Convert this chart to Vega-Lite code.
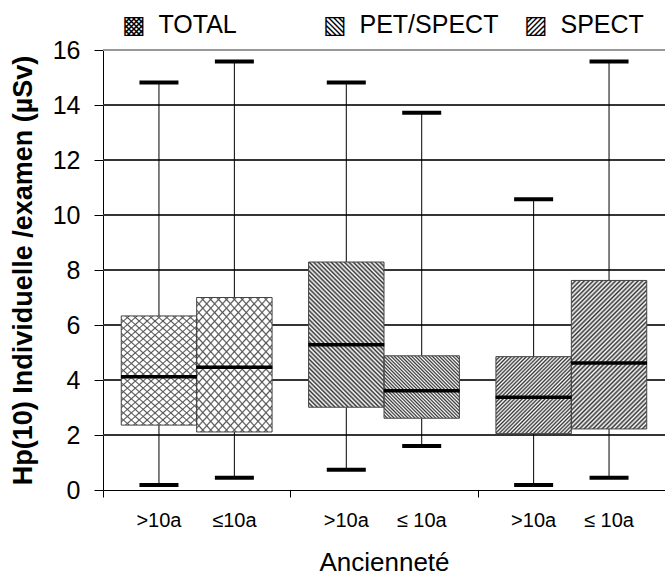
{
  "$schema": "https://vega.github.io/schema/vega-lite/v6.json",
  "autosize": {"type": "none"},
  "width": 562,
  "height": 440,
  "padding": {"left": 103, "top": 50, "right": 0, "bottom": 89},
  "config": {"view": {"stroke": null, "fill": null}, "font": "Liberation Sans"},
  "data": {"values": [
    {"group": "TOTAL", "age": ">10a", "lab": ">10a", "min": 0.18, "q1": 2.36, "median": 4.12, "q3": 6.33, "max": 14.82},
    {"group": "TOTAL", "age": "≤10a", "lab": "≤10a", "min": 0.45, "q1": 2.11, "median": 4.46, "q3": 7.0, "max": 15.58},
    {"group": "PET/SPECT", "age": ">10a", "lab": ">10a", "min": 0.74, "q1": 3.01, "median": 5.28, "q3": 8.29, "max": 14.82},
    {"group": "PET/SPECT", "age": "≤10a", "lab": "≤ 10a", "min": 1.6, "q1": 2.61, "median": 3.61, "q3": 4.88, "max": 13.72},
    {"group": "SPECT", "age": ">10a", "lab": ">10a", "min": 0.18, "q1": 2.05, "median": 3.37, "q3": 4.85, "max": 10.57},
    {"group": "SPECT", "age": "≤10a", "lab": "≤ 10a", "min": 0.45, "q1": 2.22, "median": 4.62, "q3": 7.62, "max": 15.58}
  ]},
  "layer": [
    {"layer": [
      {"mark": {"type": "rule", "color": "#333", "strokeWidth": 1}, "encoding": {"y": {"datum": 2, "type": "quantitative"}}},
      {"mark": {"type": "rule", "color": "#333", "strokeWidth": 1}, "encoding": {"y": {"datum": 4, "type": "quantitative"}}},
      {"mark": {"type": "rule", "color": "#333", "strokeWidth": 1}, "encoding": {"y": {"datum": 6, "type": "quantitative"}}},
      {"mark": {"type": "rule", "color": "#333", "strokeWidth": 1}, "encoding": {"y": {"datum": 8, "type": "quantitative"}}},
      {"mark": {"type": "rule", "color": "#333", "strokeWidth": 1}, "encoding": {"y": {"datum": 10, "type": "quantitative"}}},
      {"mark": {"type": "rule", "color": "#333", "strokeWidth": 1}, "encoding": {"y": {"datum": 12, "type": "quantitative"}}},
      {"mark": {"type": "rule", "color": "#333", "strokeWidth": 1}, "encoding": {"y": {"datum": 14, "type": "quantitative"}}},
      {"mark": {"type": "rule", "color": "#999", "strokeWidth": 1.5}, "encoding": {"y": {"datum": 16, "type": "quantitative"}}}
    ]},
    {"encoding": {
      "x": {"field": "group", "type": "nominal",
        "scale": {"domain": ["TOTAL", "PET/SPECT", "SPECT"], "paddingInner": 0, "paddingOuter": 0},
        "axis": {"title": "Ancienneté", "labels": false, "tickBand": "extent", "tickSize": 7, "tickColor": "#000", "domainColor": "#000", "grid": false,
          "titleFont": "Liberation Sans", "titleFontSize": 26, "titleFontWeight": "normal", "titleColor": "#000", "titlePadding": 52}},
      "xOffset": {"field": "age", "type": "nominal", "scale": {"domain": [">10a", "≤10a"], "paddingInner": 0, "paddingOuter": 0.242}}
     },
     "layer": [
    {"mark": {"type": "rule", "color": "#000", "strokeWidth": 1},
     "encoding": {
       "y": {"field": "min", "type": "quantitative", "scale": {"domain": [0, 16], "nice": false, "zero": true},
         "axis": {"title": "Hp(10) Individuelle /examen (µSv)", "values": [0, 2, 4, 6, 8, 10, 12, 14, 16], "grid": false,
           "domainColor": "#000", "tickColor": "#000", "tickSize": 9, "labelFontSize": 25, "labelFont": "Liberation Sans", "labelColor": "#000",
           "labelPadding": 14, "labelFlush": false, "titleFont": "Liberation Sans", "titleFontSize": 27, "titleFontWeight": "bold",
           "titleColor": "#000", "titlePadding": 15}},
       "y2": {"field": "max"}}},
    {"mark": {"type": "bar", "fill": "#fff", "strokeWidth": 0},
     "encoding": {"y": {"field": "q1", "type": "quantitative"}, "y2": {"field": "q3"}}},
    {"transform": [{"filter": "datum.group === 'TOTAL'"}],
     "mark": {"type": "bar", "strokeWidth": 0, "fill": {"gradient": "linear", "x1": 0, "y1": 0, "x2": 0.7236, "y2": 1.1708, "stops": [
       {"offset":0,"color":"#555"},{"offset":0.008,"color":"rgba(85,85,85,0)"},{"offset":0.032,"color":"rgba(85,85,85,0)"},
       {"offset":0.04,"color":"#555"},{"offset":0.048,"color":"rgba(85,85,85,0)"},{"offset":0.072,"color":"rgba(85,85,85,0)"},
       {"offset":0.08,"color":"#555"},{"offset":0.088,"color":"rgba(85,85,85,0)"},{"offset":0.112,"color":"rgba(85,85,85,0)"},
       {"offset":0.12,"color":"#555"},{"offset":0.128,"color":"rgba(85,85,85,0)"},{"offset":0.152,"color":"rgba(85,85,85,0)"},
       {"offset":0.16,"color":"#555"},{"offset":0.168,"color":"rgba(85,85,85,0)"},{"offset":0.192,"color":"rgba(85,85,85,0)"},
       {"offset":0.2,"color":"#555"},{"offset":0.208,"color":"rgba(85,85,85,0)"},{"offset":0.232,"color":"rgba(85,85,85,0)"},
       {"offset":0.24,"color":"#555"},{"offset":0.248,"color":"rgba(85,85,85,0)"},{"offset":0.272,"color":"rgba(85,85,85,0)"},
       {"offset":0.28,"color":"#555"},{"offset":0.288,"color":"rgba(85,85,85,0)"},{"offset":0.312,"color":"rgba(85,85,85,0)"},
       {"offset":0.32,"color":"#555"},{"offset":0.328,"color":"rgba(85,85,85,0)"},{"offset":0.352,"color":"rgba(85,85,85,0)"},
       {"offset":0.36,"color":"#555"},{"offset":0.368,"color":"rgba(85,85,85,0)"},{"offset":0.392,"color":"rgba(85,85,85,0)"},
       {"offset":0.4,"color":"#555"},{"offset":0.408,"color":"rgba(85,85,85,0)"},{"offset":0.432,"color":"rgba(85,85,85,0)"},
       {"offset":0.44,"color":"#555"},{"offset":0.448,"color":"rgba(85,85,85,0)"},{"offset":0.472,"color":"rgba(85,85,85,0)"},
       {"offset":0.48,"color":"#555"},{"offset":0.488,"color":"rgba(85,85,85,0)"},{"offset":0.512,"color":"rgba(85,85,85,0)"},
       {"offset":0.52,"color":"#555"},{"offset":0.528,"color":"rgba(85,85,85,0)"},{"offset":0.552,"color":"rgba(85,85,85,0)"},
       {"offset":0.56,"color":"#555"},{"offset":0.568,"color":"rgba(85,85,85,0)"},{"offset":0.592,"color":"rgba(85,85,85,0)"},
       {"offset":0.6,"color":"#555"},{"offset":0.608,"color":"rgba(85,85,85,0)"},{"offset":0.632,"color":"rgba(85,85,85,0)"},
       {"offset":0.64,"color":"#555"},{"offset":0.648,"color":"rgba(85,85,85,0)"},{"offset":0.672,"color":"rgba(85,85,85,0)"},
       {"offset":0.68,"color":"#555"},{"offset":0.688,"color":"rgba(85,85,85,0)"},{"offset":0.712,"color":"rgba(85,85,85,0)"},
       {"offset":0.72,"color":"#555"},{"offset":0.728,"color":"rgba(85,85,85,0)"},{"offset":0.752,"color":"rgba(85,85,85,0)"},
       {"offset":0.76,"color":"#555"},{"offset":0.768,"color":"rgba(85,85,85,0)"},{"offset":0.792,"color":"rgba(85,85,85,0)"},
       {"offset":0.8,"color":"#555"},{"offset":0.808,"color":"rgba(85,85,85,0)"},{"offset":0.832,"color":"rgba(85,85,85,0)"},
       {"offset":0.84,"color":"#555"},{"offset":0.848,"color":"rgba(85,85,85,0)"},{"offset":0.872,"color":"rgba(85,85,85,0)"},
       {"offset":0.88,"color":"#555"},{"offset":0.888,"color":"rgba(85,85,85,0)"},{"offset":0.912,"color":"rgba(85,85,85,0)"},
       {"offset":0.92,"color":"#555"},{"offset":0.928,"color":"rgba(85,85,85,0)"},{"offset":0.952,"color":"rgba(85,85,85,0)"},
       {"offset":0.96,"color":"#555"},{"offset":0.968,"color":"rgba(85,85,85,0)"},{"offset":0.992,"color":"rgba(85,85,85,0)"},
       {"offset":1,"color":"#555"}]}},
     "encoding": {"y": {"field": "q1", "type": "quantitative"}, "y2": {"field": "q3"}}},
    {"transform": [{"filter": "datum.group === 'TOTAL'"}],
     "mark": {"type": "bar", "strokeWidth": 0, "fill": {"gradient": "linear", "x1": 0, "y1": 1, "x2": 0.7236, "y2": -0.1708, "stops": [
       {"offset":0,"color":"#555"},{"offset":0.008,"color":"rgba(85,85,85,0)"},{"offset":0.032,"color":"rgba(85,85,85,0)"},
       {"offset":0.04,"color":"#555"},{"offset":0.048,"color":"rgba(85,85,85,0)"},{"offset":0.072,"color":"rgba(85,85,85,0)"},
       {"offset":0.08,"color":"#555"},{"offset":0.088,"color":"rgba(85,85,85,0)"},{"offset":0.112,"color":"rgba(85,85,85,0)"},
       {"offset":0.12,"color":"#555"},{"offset":0.128,"color":"rgba(85,85,85,0)"},{"offset":0.152,"color":"rgba(85,85,85,0)"},
       {"offset":0.16,"color":"#555"},{"offset":0.168,"color":"rgba(85,85,85,0)"},{"offset":0.192,"color":"rgba(85,85,85,0)"},
       {"offset":0.2,"color":"#555"},{"offset":0.208,"color":"rgba(85,85,85,0)"},{"offset":0.232,"color":"rgba(85,85,85,0)"},
       {"offset":0.24,"color":"#555"},{"offset":0.248,"color":"rgba(85,85,85,0)"},{"offset":0.272,"color":"rgba(85,85,85,0)"},
       {"offset":0.28,"color":"#555"},{"offset":0.288,"color":"rgba(85,85,85,0)"},{"offset":0.312,"color":"rgba(85,85,85,0)"},
       {"offset":0.32,"color":"#555"},{"offset":0.328,"color":"rgba(85,85,85,0)"},{"offset":0.352,"color":"rgba(85,85,85,0)"},
       {"offset":0.36,"color":"#555"},{"offset":0.368,"color":"rgba(85,85,85,0)"},{"offset":0.392,"color":"rgba(85,85,85,0)"},
       {"offset":0.4,"color":"#555"},{"offset":0.408,"color":"rgba(85,85,85,0)"},{"offset":0.432,"color":"rgba(85,85,85,0)"},
       {"offset":0.44,"color":"#555"},{"offset":0.448,"color":"rgba(85,85,85,0)"},{"offset":0.472,"color":"rgba(85,85,85,0)"},
       {"offset":0.48,"color":"#555"},{"offset":0.488,"color":"rgba(85,85,85,0)"},{"offset":0.512,"color":"rgba(85,85,85,0)"},
       {"offset":0.52,"color":"#555"},{"offset":0.528,"color":"rgba(85,85,85,0)"},{"offset":0.552,"color":"rgba(85,85,85,0)"},
       {"offset":0.56,"color":"#555"},{"offset":0.568,"color":"rgba(85,85,85,0)"},{"offset":0.592,"color":"rgba(85,85,85,0)"},
       {"offset":0.6,"color":"#555"},{"offset":0.608,"color":"rgba(85,85,85,0)"},{"offset":0.632,"color":"rgba(85,85,85,0)"},
       {"offset":0.64,"color":"#555"},{"offset":0.648,"color":"rgba(85,85,85,0)"},{"offset":0.672,"color":"rgba(85,85,85,0)"},
       {"offset":0.68,"color":"#555"},{"offset":0.688,"color":"rgba(85,85,85,0)"},{"offset":0.712,"color":"rgba(85,85,85,0)"},
       {"offset":0.72,"color":"#555"},{"offset":0.728,"color":"rgba(85,85,85,0)"},{"offset":0.752,"color":"rgba(85,85,85,0)"},
       {"offset":0.76,"color":"#555"},{"offset":0.768,"color":"rgba(85,85,85,0)"},{"offset":0.792,"color":"rgba(85,85,85,0)"},
       {"offset":0.8,"color":"#555"},{"offset":0.808,"color":"rgba(85,85,85,0)"},{"offset":0.832,"color":"rgba(85,85,85,0)"},
       {"offset":0.84,"color":"#555"},{"offset":0.848,"color":"rgba(85,85,85,0)"},{"offset":0.872,"color":"rgba(85,85,85,0)"},
       {"offset":0.88,"color":"#555"},{"offset":0.888,"color":"rgba(85,85,85,0)"},{"offset":0.912,"color":"rgba(85,85,85,0)"},
       {"offset":0.92,"color":"#555"},{"offset":0.928,"color":"rgba(85,85,85,0)"},{"offset":0.952,"color":"rgba(85,85,85,0)"},
       {"offset":0.96,"color":"#555"},{"offset":0.968,"color":"rgba(85,85,85,0)"},{"offset":0.992,"color":"rgba(85,85,85,0)"},
       {"offset":1,"color":"#555"}]}},
     "encoding": {"y": {"field": "q1", "type": "quantitative"}, "y2": {"field": "q3"}}},
    {"transform": [{"filter": "datum.group === 'PET/SPECT' && datum.age === '>10a'"}],
     "mark": {"type": "bar", "strokeWidth": 0, "fill": {"gradient": "linear", "x1": 0, "y1": 1, "x2": 0.6214, "y2": -0.1966, "stops": [
       {"offset":0,"color":"#333"},{"offset":0.01,"color":"#fff"},{"offset":0.02,"color":"#333"},{"offset":0.03,"color":"#fff"},{"offset":0.04,"color":"#333"},
       {"offset":0.05,"color":"#fff"},{"offset":0.06,"color":"#333"},{"offset":0.07,"color":"#fff"},{"offset":0.08,"color":"#333"},{"offset":0.09,"color":"#fff"},
       {"offset":0.1,"color":"#333"},{"offset":0.11,"color":"#fff"},{"offset":0.12,"color":"#333"},{"offset":0.13,"color":"#fff"},{"offset":0.14,"color":"#333"},
       {"offset":0.15,"color":"#fff"},{"offset":0.16,"color":"#333"},{"offset":0.17,"color":"#fff"},{"offset":0.18,"color":"#333"},{"offset":0.19,"color":"#fff"},
       {"offset":0.2,"color":"#333"},{"offset":0.21,"color":"#fff"},{"offset":0.22,"color":"#333"},{"offset":0.23,"color":"#fff"},{"offset":0.24,"color":"#333"},
       {"offset":0.25,"color":"#fff"},{"offset":0.26,"color":"#333"},{"offset":0.27,"color":"#fff"},{"offset":0.28,"color":"#333"},{"offset":0.29,"color":"#fff"},
       {"offset":0.3,"color":"#333"},{"offset":0.31,"color":"#fff"},{"offset":0.32,"color":"#333"},{"offset":0.33,"color":"#fff"},{"offset":0.34,"color":"#333"},
       {"offset":0.35,"color":"#fff"},{"offset":0.36,"color":"#333"},{"offset":0.37,"color":"#fff"},{"offset":0.38,"color":"#333"},{"offset":0.39,"color":"#fff"},
       {"offset":0.4,"color":"#333"},{"offset":0.41,"color":"#fff"},{"offset":0.42,"color":"#333"},{"offset":0.43,"color":"#fff"},{"offset":0.44,"color":"#333"},
       {"offset":0.45,"color":"#fff"},{"offset":0.46,"color":"#333"},{"offset":0.47,"color":"#fff"},{"offset":0.48,"color":"#333"},{"offset":0.49,"color":"#fff"},
       {"offset":0.5,"color":"#333"},{"offset":0.51,"color":"#fff"},{"offset":0.52,"color":"#333"},{"offset":0.53,"color":"#fff"},{"offset":0.54,"color":"#333"},
       {"offset":0.55,"color":"#fff"},{"offset":0.56,"color":"#333"},{"offset":0.57,"color":"#fff"},{"offset":0.58,"color":"#333"},{"offset":0.59,"color":"#fff"},
       {"offset":0.6,"color":"#333"},{"offset":0.61,"color":"#fff"},{"offset":0.62,"color":"#333"},{"offset":0.63,"color":"#fff"},{"offset":0.64,"color":"#333"},
       {"offset":0.65,"color":"#fff"},{"offset":0.66,"color":"#333"},{"offset":0.67,"color":"#fff"},{"offset":0.68,"color":"#333"},{"offset":0.69,"color":"#fff"},
       {"offset":0.7,"color":"#333"},{"offset":0.71,"color":"#fff"},{"offset":0.72,"color":"#333"},{"offset":0.73,"color":"#fff"},{"offset":0.74,"color":"#333"},
       {"offset":0.75,"color":"#fff"},{"offset":0.76,"color":"#333"},{"offset":0.77,"color":"#fff"},{"offset":0.78,"color":"#333"},{"offset":0.79,"color":"#fff"},
       {"offset":0.8,"color":"#333"},{"offset":0.81,"color":"#fff"},{"offset":0.82,"color":"#333"},{"offset":0.83,"color":"#fff"},{"offset":0.84,"color":"#333"},
       {"offset":0.85,"color":"#fff"},{"offset":0.86,"color":"#333"},{"offset":0.87,"color":"#fff"},{"offset":0.88,"color":"#333"},{"offset":0.89,"color":"#fff"},
       {"offset":0.9,"color":"#333"},{"offset":0.91,"color":"#fff"},{"offset":0.92,"color":"#333"},{"offset":0.93,"color":"#fff"},{"offset":0.94,"color":"#333"},
       {"offset":0.95,"color":"#fff"},{"offset":0.96,"color":"#333"},{"offset":0.97,"color":"#fff"},{"offset":0.98,"color":"#333"},{"offset":0.99,"color":"#fff"},
       {"offset":1,"color":"#333"}]}},
     "encoding": {"y": {"field": "q1", "type": "quantitative"}, "y2": {"field": "q3"}}},
    {"transform": [{"filter": "datum.group === 'PET/SPECT' && datum.age === '≤10a'"}],
     "mark": {"type": "bar", "strokeWidth": 0, "fill": {"gradient": "linear", "x1": 0, "y1": 1, "x2": 1.0847, "y2": 0.1023, "stops": [
       {"offset":0,"color":"#333"},{"offset":0.0125,"color":"#fff"},{"offset":0.025,"color":"#333"},{"offset":0.0375,"color":"#fff"},
       {"offset":0.05,"color":"#333"},{"offset":0.0625,"color":"#fff"},{"offset":0.075,"color":"#333"},{"offset":0.0875,"color":"#fff"},
       {"offset":0.1,"color":"#333"},{"offset":0.1125,"color":"#fff"},{"offset":0.125,"color":"#333"},{"offset":0.1375,"color":"#fff"},
       {"offset":0.15,"color":"#333"},{"offset":0.1625,"color":"#fff"},{"offset":0.175,"color":"#333"},{"offset":0.1875,"color":"#fff"},
       {"offset":0.2,"color":"#333"},{"offset":0.2125,"color":"#fff"},{"offset":0.225,"color":"#333"},{"offset":0.2375,"color":"#fff"},
       {"offset":0.25,"color":"#333"},{"offset":0.2625,"color":"#fff"},{"offset":0.275,"color":"#333"},{"offset":0.2875,"color":"#fff"},
       {"offset":0.3,"color":"#333"},{"offset":0.3125,"color":"#fff"},{"offset":0.325,"color":"#333"},{"offset":0.3375,"color":"#fff"},
       {"offset":0.35,"color":"#333"},{"offset":0.3625,"color":"#fff"},{"offset":0.375,"color":"#333"},{"offset":0.3875,"color":"#fff"},
       {"offset":0.4,"color":"#333"},{"offset":0.4125,"color":"#fff"},{"offset":0.425,"color":"#333"},{"offset":0.4375,"color":"#fff"},
       {"offset":0.45,"color":"#333"},{"offset":0.4625,"color":"#fff"},{"offset":0.475,"color":"#333"},{"offset":0.4875,"color":"#fff"},
       {"offset":0.5,"color":"#333"},{"offset":0.5125,"color":"#fff"},{"offset":0.525,"color":"#333"},{"offset":0.5375,"color":"#fff"},
       {"offset":0.55,"color":"#333"},{"offset":0.5625,"color":"#fff"},{"offset":0.575,"color":"#333"},{"offset":0.5875,"color":"#fff"},
       {"offset":0.6,"color":"#333"},{"offset":0.6125,"color":"#fff"},{"offset":0.625,"color":"#333"},{"offset":0.6375,"color":"#fff"},
       {"offset":0.65,"color":"#333"},{"offset":0.6625,"color":"#fff"},{"offset":0.675,"color":"#333"},{"offset":0.6875,"color":"#fff"},
       {"offset":0.7,"color":"#333"},{"offset":0.7125,"color":"#fff"},{"offset":0.725,"color":"#333"},{"offset":0.7375,"color":"#fff"},
       {"offset":0.75,"color":"#333"},{"offset":0.7625,"color":"#fff"},{"offset":0.775,"color":"#333"},{"offset":0.7875,"color":"#fff"},
       {"offset":0.8,"color":"#333"},{"offset":0.8125,"color":"#fff"},{"offset":0.825,"color":"#333"},{"offset":0.8375,"color":"#fff"},
       {"offset":0.85,"color":"#333"},{"offset":0.8625,"color":"#fff"},{"offset":0.875,"color":"#333"},{"offset":0.8875,"color":"#fff"},
       {"offset":0.9,"color":"#333"},{"offset":0.9125,"color":"#fff"},{"offset":0.925,"color":"#333"},{"offset":0.9375,"color":"#fff"},
       {"offset":0.95,"color":"#333"},{"offset":0.9625,"color":"#fff"},{"offset":0.975,"color":"#333"},{"offset":0.9875,"color":"#fff"},
       {"offset":1,"color":"#333"}]}},
     "encoding": {"y": {"field": "q1", "type": "quantitative"}, "y2": {"field": "q3"}}},
    {"transform": [{"filter": "datum.group === 'SPECT' && datum.age === '>10a'"}],
     "mark": {"type": "bar", "strokeWidth": 0, "fill": {"gradient": "linear", "x1": 0, "y1": 0, "x2": 0.9894, "y2": 1.0104, "stops": [
       {"offset":0,"color":"#333"},{"offset":0.0125,"color":"#fff"},{"offset":0.025,"color":"#333"},{"offset":0.0375,"color":"#fff"},
       {"offset":0.05,"color":"#333"},{"offset":0.0625,"color":"#fff"},{"offset":0.075,"color":"#333"},{"offset":0.0875,"color":"#fff"},
       {"offset":0.1,"color":"#333"},{"offset":0.1125,"color":"#fff"},{"offset":0.125,"color":"#333"},{"offset":0.1375,"color":"#fff"},
       {"offset":0.15,"color":"#333"},{"offset":0.1625,"color":"#fff"},{"offset":0.175,"color":"#333"},{"offset":0.1875,"color":"#fff"},
       {"offset":0.2,"color":"#333"},{"offset":0.2125,"color":"#fff"},{"offset":0.225,"color":"#333"},{"offset":0.2375,"color":"#fff"},
       {"offset":0.25,"color":"#333"},{"offset":0.2625,"color":"#fff"},{"offset":0.275,"color":"#333"},{"offset":0.2875,"color":"#fff"},
       {"offset":0.3,"color":"#333"},{"offset":0.3125,"color":"#fff"},{"offset":0.325,"color":"#333"},{"offset":0.3375,"color":"#fff"},
       {"offset":0.35,"color":"#333"},{"offset":0.3625,"color":"#fff"},{"offset":0.375,"color":"#333"},{"offset":0.3875,"color":"#fff"},
       {"offset":0.4,"color":"#333"},{"offset":0.4125,"color":"#fff"},{"offset":0.425,"color":"#333"},{"offset":0.4375,"color":"#fff"},
       {"offset":0.45,"color":"#333"},{"offset":0.4625,"color":"#fff"},{"offset":0.475,"color":"#333"},{"offset":0.4875,"color":"#fff"},
       {"offset":0.5,"color":"#333"},{"offset":0.5125,"color":"#fff"},{"offset":0.525,"color":"#333"},{"offset":0.5375,"color":"#fff"},
       {"offset":0.55,"color":"#333"},{"offset":0.5625,"color":"#fff"},{"offset":0.575,"color":"#333"},{"offset":0.5875,"color":"#fff"},
       {"offset":0.6,"color":"#333"},{"offset":0.6125,"color":"#fff"},{"offset":0.625,"color":"#333"},{"offset":0.6375,"color":"#fff"},
       {"offset":0.65,"color":"#333"},{"offset":0.6625,"color":"#fff"},{"offset":0.675,"color":"#333"},{"offset":0.6875,"color":"#fff"},
       {"offset":0.7,"color":"#333"},{"offset":0.7125,"color":"#fff"},{"offset":0.725,"color":"#333"},{"offset":0.7375,"color":"#fff"},
       {"offset":0.75,"color":"#333"},{"offset":0.7625,"color":"#fff"},{"offset":0.775,"color":"#333"},{"offset":0.7875,"color":"#fff"},
       {"offset":0.8,"color":"#333"},{"offset":0.8125,"color":"#fff"},{"offset":0.825,"color":"#333"},{"offset":0.8375,"color":"#fff"},
       {"offset":0.85,"color":"#333"},{"offset":0.8625,"color":"#fff"},{"offset":0.875,"color":"#333"},{"offset":0.8875,"color":"#fff"},
       {"offset":0.9,"color":"#333"},{"offset":0.9125,"color":"#fff"},{"offset":0.925,"color":"#333"},{"offset":0.9375,"color":"#fff"},
       {"offset":0.95,"color":"#333"},{"offset":0.9625,"color":"#fff"},{"offset":0.975,"color":"#333"},{"offset":0.9875,"color":"#fff"},
       {"offset":1,"color":"#333"}]}},
     "encoding": {"y": {"field": "q1", "type": "quantitative"}, "y2": {"field": "q3"}}},
    {"transform": [{"filter": "datum.group === 'SPECT' && datum.age === '≤10a'"}],
     "mark": {"type": "bar", "strokeWidth": 0, "fill": {"gradient": "linear", "x1": 0, "y1": 0, "x2": 0.6086, "y2": 1.1987, "stops": [
       {"offset":0,"color":"#333"},{"offset":0.01,"color":"#fff"},{"offset":0.02,"color":"#333"},{"offset":0.03,"color":"#fff"},{"offset":0.04,"color":"#333"},
       {"offset":0.05,"color":"#fff"},{"offset":0.06,"color":"#333"},{"offset":0.07,"color":"#fff"},{"offset":0.08,"color":"#333"},{"offset":0.09,"color":"#fff"},
       {"offset":0.1,"color":"#333"},{"offset":0.11,"color":"#fff"},{"offset":0.12,"color":"#333"},{"offset":0.13,"color":"#fff"},{"offset":0.14,"color":"#333"},
       {"offset":0.15,"color":"#fff"},{"offset":0.16,"color":"#333"},{"offset":0.17,"color":"#fff"},{"offset":0.18,"color":"#333"},{"offset":0.19,"color":"#fff"},
       {"offset":0.2,"color":"#333"},{"offset":0.21,"color":"#fff"},{"offset":0.22,"color":"#333"},{"offset":0.23,"color":"#fff"},{"offset":0.24,"color":"#333"},
       {"offset":0.25,"color":"#fff"},{"offset":0.26,"color":"#333"},{"offset":0.27,"color":"#fff"},{"offset":0.28,"color":"#333"},{"offset":0.29,"color":"#fff"},
       {"offset":0.3,"color":"#333"},{"offset":0.31,"color":"#fff"},{"offset":0.32,"color":"#333"},{"offset":0.33,"color":"#fff"},{"offset":0.34,"color":"#333"},
       {"offset":0.35,"color":"#fff"},{"offset":0.36,"color":"#333"},{"offset":0.37,"color":"#fff"},{"offset":0.38,"color":"#333"},{"offset":0.39,"color":"#fff"},
       {"offset":0.4,"color":"#333"},{"offset":0.41,"color":"#fff"},{"offset":0.42,"color":"#333"},{"offset":0.43,"color":"#fff"},{"offset":0.44,"color":"#333"},
       {"offset":0.45,"color":"#fff"},{"offset":0.46,"color":"#333"},{"offset":0.47,"color":"#fff"},{"offset":0.48,"color":"#333"},{"offset":0.49,"color":"#fff"},
       {"offset":0.5,"color":"#333"},{"offset":0.51,"color":"#fff"},{"offset":0.52,"color":"#333"},{"offset":0.53,"color":"#fff"},{"offset":0.54,"color":"#333"},
       {"offset":0.55,"color":"#fff"},{"offset":0.56,"color":"#333"},{"offset":0.57,"color":"#fff"},{"offset":0.58,"color":"#333"},{"offset":0.59,"color":"#fff"},
       {"offset":0.6,"color":"#333"},{"offset":0.61,"color":"#fff"},{"offset":0.62,"color":"#333"},{"offset":0.63,"color":"#fff"},{"offset":0.64,"color":"#333"},
       {"offset":0.65,"color":"#fff"},{"offset":0.66,"color":"#333"},{"offset":0.67,"color":"#fff"},{"offset":0.68,"color":"#333"},{"offset":0.69,"color":"#fff"},
       {"offset":0.7,"color":"#333"},{"offset":0.71,"color":"#fff"},{"offset":0.72,"color":"#333"},{"offset":0.73,"color":"#fff"},{"offset":0.74,"color":"#333"},
       {"offset":0.75,"color":"#fff"},{"offset":0.76,"color":"#333"},{"offset":0.77,"color":"#fff"},{"offset":0.78,"color":"#333"},{"offset":0.79,"color":"#fff"},
       {"offset":0.8,"color":"#333"},{"offset":0.81,"color":"#fff"},{"offset":0.82,"color":"#333"},{"offset":0.83,"color":"#fff"},{"offset":0.84,"color":"#333"},
       {"offset":0.85,"color":"#fff"},{"offset":0.86,"color":"#333"},{"offset":0.87,"color":"#fff"},{"offset":0.88,"color":"#333"},{"offset":0.89,"color":"#fff"},
       {"offset":0.9,"color":"#333"},{"offset":0.91,"color":"#fff"},{"offset":0.92,"color":"#333"},{"offset":0.93,"color":"#fff"},{"offset":0.94,"color":"#333"},
       {"offset":0.95,"color":"#fff"},{"offset":0.96,"color":"#333"},{"offset":0.97,"color":"#fff"},{"offset":0.98,"color":"#333"},{"offset":0.99,"color":"#fff"},
       {"offset":1,"color":"#333"}]}},
     "encoding": {"y": {"field": "q1", "type": "quantitative"}, "y2": {"field": "q3"}}},
    {"mark": {"type": "bar", "fill": "#fff", "fillOpacity": 0, "stroke": "#444", "strokeWidth": 1},
     "encoding": {"y": {"field": "q1", "type": "quantitative"}, "y2": {"field": "q3"}}},
    {"mark": {"type": "tick", "orient": "horizontal", "color": "#000", "opacity": 1, "size": 76, "thickness": 3.5},
     "encoding": {"y": {"field": "median", "type": "quantitative"}}},
    {"mark": {"type": "tick", "orient": "horizontal", "color": "#000", "opacity": 1, "size": 39, "thickness": 4},
     "encoding": {"y": {"field": "min", "type": "quantitative"}}},
    {"mark": {"type": "tick", "orient": "horizontal", "color": "#000", "opacity": 1, "size": 39, "thickness": 4},
     "encoding": {"y": {"field": "max", "type": "quantitative"}}},
    {"mark": {"type": "point", "filled": true},
     "encoding": {
       "y": {"field": "median", "type": "quantitative"},
       "opacity": {"value": 0},
       "shape": {"field": "group", "type": "nominal", "scale": {"domain": ["TOTAL", "PET/SPECT", "SPECT"]},
         "legend": {"title": null, "orient": "none", "legendX": -6, "legendY": -38, "direction": "horizontal", "columns": 3, "gridAlign": "all",
           "columnPadding": 0, "padding": 0, "symbolSize": 0, "symbolOpacity": 0, "symbolStrokeWidth": 0,
           "labelFontSize": 25, "labelFont": "Liberation Sans", "labelColor": "#000", "labelOffset": 0, "labelLimit": 300,
           "labelExpr": "datum.label === 'TOTAL' ? '▩\u2002TOTAL' : datum.label === 'PET/SPECT' ? '▧\u2002PET/SPECT' : '▨\u2002SPECT'"}}}},
    {"mark": {"type": "text", "fontSize": 20, "font": "Liberation Sans", "color": "#000", "baseline": "middle"},
     "encoding": {"y": {"datum": -1.13, "type": "quantitative"}, "text": {"field": "lab"}}}
     ]}
  ]
}
